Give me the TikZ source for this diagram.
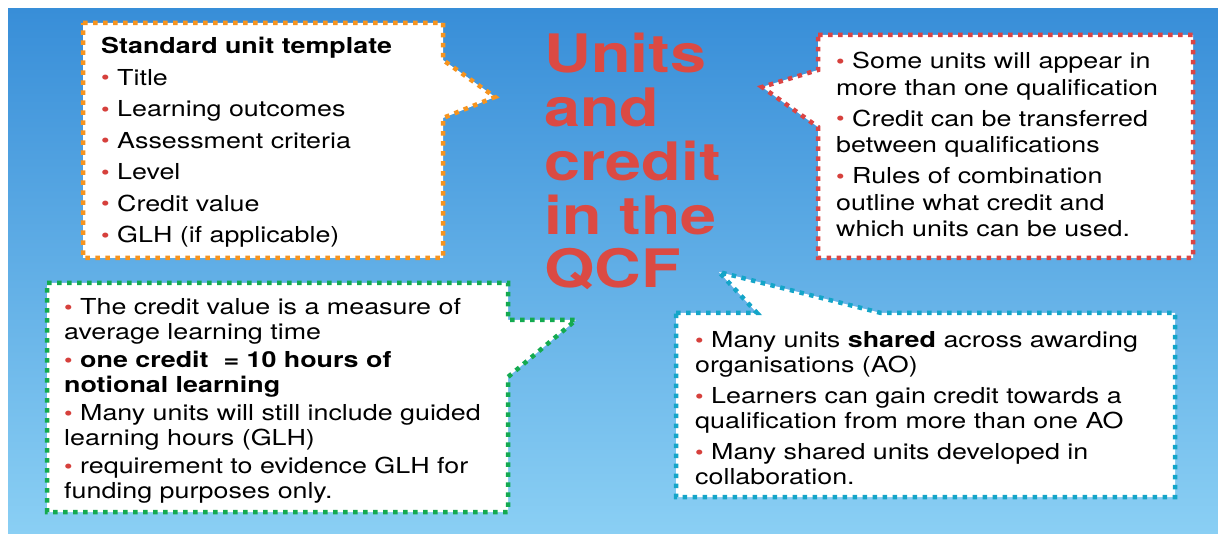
\documentclass[tikz,border=0pt]{standalone}
\usepackage{fontspec}
\setmainfont[FakeStretch=1.22]{TeX Gyre Heros}

\definecolor{bgtop}{RGB}{56,142,216}
\definecolor{bgbot}{RGB}{138,207,244}
\definecolor{titlered}{RGB}{219,74,67}
\definecolor{bulred}{RGB}{214,64,60}
\definecolor{orangeline}{RGB}{247,148,30}
\definecolor{redline}{RGB}{219,68,68}
\definecolor{greenline}{RGB}{20,170,80}
\definecolor{blueline}{RGB}{20,165,200}

\newcommand{\bul}{{\color{bulred}\fontsize{20}{20}\selectfont\raisebox{0.5pt}{\textbullet}}\ }

\begin{document}
\begin{tikzpicture}[x=1pt,y=-1pt,
    callout/.style={fill=white,line width=4.5pt,dash pattern=on 4.5pt off 5.5pt},
    txt/.style={anchor=base west,inner sep=0pt}]
  \useasboundingbox (0,0) rectangle (1218,534);
  \fill[top color=bgtop,bottom color=bgbot] (8,9) rectangle (1218,534);

  % title
  \node[txt] (title) at (544,73) {\parbox[t]{260pt}{\leavevmode\color{titlered}\fontsize{53}{53.75}\selectfont\bfseries
    Units\\and\\credit\\in the\\QCF}};

  % top left
  \begin{scope}
    \draw[callout,draw=orangeline] (83,23) -- (443,23) -- (443,60) -- (495,97) -- (443,118) -- (443,258) -- (83,258) -- cycle;
    \node[txt] (template) at (101,54) {\parbox[t]{340pt}{\leavevmode\fontsize{22}{26.5}\selectfont
      \textbf{Standard unit template}\\[5pt]
      \bul Title\\[5pt]
      \bul Learning outcomes\\[5pt]
      \bul Assessment criteria\\[5pt]
      \bul Level\\[5pt]
      \bul Credit value\\[5pt]
      \bul GLH (if applicable)}};
  \end{scope}

  % top right
  \begin{scope}
    \draw[callout,draw=redline] (818,35) -- (1193,35) -- (1193,258) -- (818,258) -- (818,127) -- (762,87) -- (818,70) -- cycle;
    \node[txt] (transfer) at (836,69) {\parbox[t]{360pt}{\leavevmode\fontsize{22}{26.5}\selectfont
      \bul Some units will appear in\\
      more than one qualification\\[4.5pt]
      \bul Credit can be transferred\\
      between qualifications\\[4.5pt]
      \bul Rules of combination\\
      outline what credit and\\
      which units can be used.}};
  \end{scope}

  % bottom left
  \begin{scope}
    \draw[callout,draw=greenline] (47,283) -- (508,283) -- (508,320) -- (576,320) -- (508,377) -- (508,512) -- (47,512) -- cycle;
    \node[txt] (measure) at (64,315) {\parbox[t]{440pt}{\leavevmode\fontsize{22}{24.5}\selectfont
      \bul The credit value is a measure of\\
      average learning time\\[4pt]
      \bul \textbf{one credit\ \ = 10 hours of}\\
      \textbf{notional learning}\\[4pt]
      \bul Many units will still include guided\\
      learning hours (GLH)\\[4pt]
      \bul requirement to evidence GLH for\\
      funding purposes only.}};
  \end{scope}

  % bottom right
  \begin{scope}
    \draw[callout,draw=blueline] (676,313) -- (757,313) -- (719,272) -- (881,313) -- (1175,313) -- (1175,497) -- (676,497) -- cycle;
    \node[txt] (shared) at (695,348) {\parbox[t]{470pt}{\leavevmode\fontsize{22}{25}\selectfont
      \bul Many units \textbf{shared} across awarding\\
      organisations (AO)\\[6pt]
      \bul Learners can gain credit towards a\\
      qualification from more than one AO\\[6pt]
      \bul Many shared units developed in\\
      collaboration.}};
  \end{scope}
\end{tikzpicture}
\end{document}
